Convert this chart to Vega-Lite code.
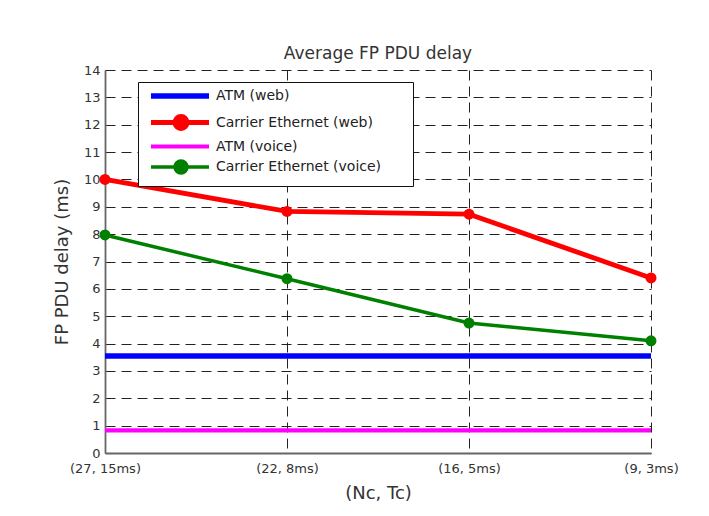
{
  "$schema": "https://vega.github.io/schema/vega-lite/v6.json",
  "width": 546,
  "height": 383,
  "autosize": {"type": "none"},
  "padding": {"left": 105, "top": 70, "right": 58, "bottom": 63},
  "background": "white",
  "config": {
    "font": "DejaVu Sans",
    "view": {"stroke": null},
    "axis": {
      "labelFont": "DejaVu Sans",
      "titleFont": "DejaVu Sans",
      "labelColor": "#333",
      "titleColor": "#333",
      "titleFontWeight": "normal",
      "ticks": false,
      "grid": true,
      "gridColor": "#222",
      "gridOpacity": 1,
      "gridWidth": 1,
      "gridDash": [10, 6],
      "domainColor": "#666",
      "domainWidth": 1.8
    }
  },
  "title": {
    "text": "Average FP PDU delay",
    "fontSize": 17,
    "fontWeight": "normal",
    "color": "#333",
    "font": "DejaVu Sans",
    "anchor": "middle",
    "baseline": "alphabetic",
    "offset": -12
  },
  "data": {
    "values": [
      {"series": "ATM (web)", "cfg": "(27, 15ms)", "delay": 3.55},
      {"series": "ATM (web)", "cfg": "(22, 8ms)", "delay": 3.55},
      {"series": "ATM (web)", "cfg": "(16, 5ms)", "delay": 3.55},
      {"series": "ATM (web)", "cfg": "(9, 3ms)", "delay": 3.55},
      {"series": "Carrier Ethernet (web)", "cfg": "(27, 15ms)", "delay": 10.0},
      {"series": "Carrier Ethernet (web)", "cfg": "(22, 8ms)", "delay": 8.83},
      {"series": "Carrier Ethernet (web)", "cfg": "(16, 5ms)", "delay": 8.73},
      {"series": "Carrier Ethernet (web)", "cfg": "(9, 3ms)", "delay": 6.4},
      {"series": "ATM (voice)", "cfg": "(27, 15ms)", "delay": 0.83},
      {"series": "ATM (voice)", "cfg": "(22, 8ms)", "delay": 0.83},
      {"series": "ATM (voice)", "cfg": "(16, 5ms)", "delay": 0.83},
      {"series": "ATM (voice)", "cfg": "(9, 3ms)", "delay": 0.83},
      {"series": "Carrier Ethernet (voice)", "cfg": "(27, 15ms)", "delay": 7.97},
      {"series": "Carrier Ethernet (voice)", "cfg": "(22, 8ms)", "delay": 6.37},
      {"series": "Carrier Ethernet (voice)", "cfg": "(16, 5ms)", "delay": 4.75},
      {"series": "Carrier Ethernet (voice)", "cfg": "(9, 3ms)", "delay": 4.1}
    ]
  },
  "encoding": {
    "x": {
      "field": "cfg",
      "type": "ordinal",
      "sort": ["(27, 15ms)", "(22, 8ms)", "(16, 5ms)", "(9, 3ms)"],
      "scale": {"type": "point", "padding": 0},
      "axis": {
        "title": "(Nc, Tc)",
        "labelAngle": 0,
        "labelFontSize": 13,
        "labelPadding": 9,
        "titleFontSize": 18,
        "titlePadding": 9
      }
    },
    "y": {
      "field": "delay",
      "type": "quantitative",
      "scale": {"domain": [0, 14], "nice": false},
      "axis": {
        "title": "FP PDU delay (ms)",
        "values": [0, 1, 2, 3, 4, 5, 6, 7, 8, 9, 10, 11, 12, 13, 14],
        "labelFontSize": 13,
        "labelPadding": 5,
        "titleFontSize": 18,
        "titlePadding": 12
      }
    },
    "color": {
      "field": "series",
      "type": "nominal",
      "scale": {
        "domain": ["ATM (web)", "Carrier Ethernet (web)", "ATM (voice)", "Carrier Ethernet (voice)"],
        "range": ["#0000ff", "#ff0000", "#ff00ff", "#008000"]
      }
    }
  },
  "layer": [
    {
      "mark": {"type": "line"},
      "encoding": {
        "strokeWidth": {
          "field": "series",
          "type": "nominal",
          "scale": {
            "domain": ["ATM (web)", "Carrier Ethernet (web)", "ATM (voice)", "Carrier Ethernet (voice)"],
            "range": [5.5, 3.5, 5.5, 3.5]
          },
          "legend": null
        },
        "color": {
          "field": "series",
          "type": "nominal",
          "legend": {
            "title": "\u00a0",
            "titleOrient": "right",
            "titlePadding": 26,
            "titleFontSize": 14,
            "orient": "none",
            "legendX": 33,
            "legendY": 12,
            "padding": 6,
            "strokeColor": "#111",
            "fillColor": "white",
            "labelFont": "DejaVu Sans",
            "labelFontSize": 14,
            "labelColor": "#222",
            "labelOffset": 56,
            "labelLimit": 400,
            "rowPadding": -1,
            "symbolSize": 100,
            "encode": {
              "symbols": {
                "update": {
                  "shape": {"signal": "indexof(datum.value, 'Carrier') >= 0 ? 'M-0.2,0H11.4M4.6,0A1.2,1.2,0,1,1,7,0A1.2,1.2,0,1,1,4.6,0Z' : 'M-0.2,0H11.4'"},
                  "fill": {"signal": "indexof(datum.value, 'Carrier') >= 0 ? scale('color', datum.value) : 'transparent'"},
                  "stroke": {"signal": "scale('color', datum.value)"},
                  "strokeWidth": {"signal": "indexof(datum.value, 'ATM') == 0 ? 5.5 : 3.5"},
                  "opacity": {"value": 1}
                }
              }
            }
          }
        }
      }
    },
    {
      "transform": [{"filter": "indexof(datum.series, 'Carrier') >= 0"}],
      "mark": {"type": "point", "filled": true, "size": 120, "opacity": 1}
    }
  ]
}
